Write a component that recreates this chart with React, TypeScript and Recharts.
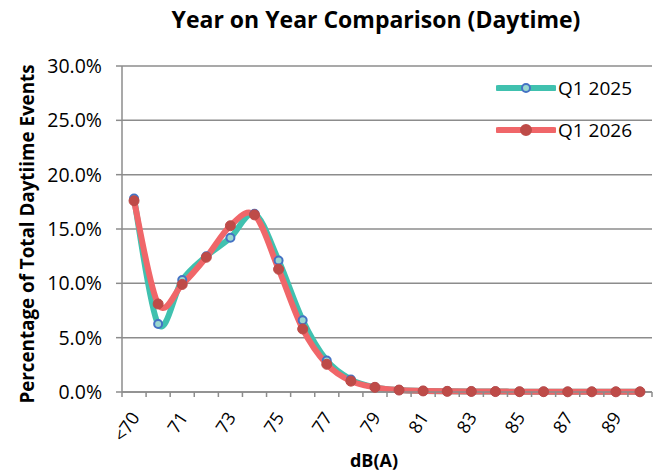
import React from 'react';
import { LineChart, Line, XAxis, YAxis, CartesianGrid, Legend } from 'recharts';

const categories = ['<70','70','71','72','73','74','75','76','77','78','79','80','81','82','83','84','85','86','87','88','89','90'];
const q1_2025 = [17.8, 6.25, 10.3, 12.5, 14.2, 16.4, 12.1, 6.6, 2.9, 1.15, 0.43, 0.18, 0.1, 0.06, 0.05, 0.04, 0.03, 0.03, 0.02, 0.02, 0.02, 0.02];
const q1_2026 = [17.6, 8.1, 9.9, 12.4, 15.3, 16.3, 11.3, 5.8, 2.55, 1.0, 0.43, 0.18, 0.1, 0.06, 0.05, 0.04, 0.03, 0.03, 0.02, 0.02, 0.02, 0.02];
const yTicks = [0, 5, 10, 15, 20, 25, 30];
const labelIdx = [0, 2, 4, 6, 8, 10, 12, 14, 16, 18, 20];

const data = categories.map((c, i) => ({ i, cat: c, a: q1_2025[i], b: q1_2026[i] }));
const boundaryTicks = [...categories.map((_, k) => k - 0.5), categories.length - 0.5];
const domainX = [-0.5, categories.length - 0.5];

const FONT = '"Open Sans", sans-serif';
const TEAL = '#40C1AF';
const RED = '#F06669';
const BLUE = '#4472C4';
const DARKRED = '#BE4B48';

// Excel-like smoothing: cubic Bezier with Catmull-Rom control points
const excelSmooth = (context: any) => {
  let xs: number[] = [];
  let ys: number[] = [];
  return {
    areaStart() {},
    areaEnd() {},
    lineStart() { xs = []; ys = []; },
    lineEnd() {
      const n = xs.length;
      if (!n) return;
      context.moveTo(xs[0], ys[0]);
      for (let i = 0; i < n - 1; i++) {
        const p = Math.max(i - 1, 0);
        const q = Math.min(i + 2, n - 1);
        context.bezierCurveTo(
          xs[i] + (xs[i + 1] - xs[p]) / 6, ys[i] + (ys[i + 1] - ys[p]) / 6,
          xs[i + 1] - (xs[q] - xs[i]) / 6, ys[i + 1] - (ys[q] - ys[i]) / 6,
          xs[i + 1], ys[i + 1]
        );
      }
    },
    point(x: number, y: number) { xs.push(+x); ys.push(+y); },
  };
};

const EmptyTick = () => <g />;

const RotTick = (props: any) => {
  const { x, y, payload } = props;
  return (
    <g transform={`translate(${x + 1},${y + 14})`}>
      <text transform="rotate(-57)" textAnchor="end" dy="0.35em" fontSize={18} fontFamily={FONT} fill="#000">
        {categories[payload.value]}
      </text>
    </g>
  );
};

const YLabel = () => (
  <text x={27} y={234} transform="rotate(-90, 27, 234)" textAnchor="middle" dominantBaseline="central"
    fontSize={18.8} fontWeight="bold" fontFamily={FONT} fill="#000">
    Percentage of Total Daytiime Events
  </text>
);

const LegendContent = (props: any) => {
  const { payload } = props;
  return (
    <div>
      {(payload || []).map((entry: any, k: number) => {
        const filled = k === 1;
        return (
          <div key={k} style={{ display: 'flex', alignItems: 'center', height: 42 }}>
            <svg width={60} height={12}>
              <line x1={2} y1={6} x2={58} y2={6} stroke={entry.color} strokeWidth={6} strokeLinecap="round" />
              <circle cx={30} cy={6} r={filled ? 5 : 4} fill={filled ? DARKRED : '#9AD8CF'} stroke={filled ? DARKRED : BLUE} strokeWidth={2} />
            </svg>
            <span style={{ fontFamily: FONT, fontSize: 19, color: '#000', marginLeft: 2 }}>{entry.value}</span>
          </div>
        );
      })}
    </div>
  );
};

export default function App() {
  return (
    <div style={{ position: 'absolute', left: 0, top: 0, width: 659, height: 472, background: '#fff' }}>
      <div style={{ position: 'absolute', left: 126, width: 500, top: 3, textAlign: 'center', fontFamily: FONT, fontWeight: 'bold', fontSize: 23, color: '#000' }}>
        Year on Year Comparison (Daytime)
      </div>
      <LineChart width={659} height={472} data={data} margin={{ top: 66, right: 7, left: 0, bottom: 0 }}>
        <CartesianGrid vertical={false} stroke="#8c8c8c" strokeWidth={1.5} />
        <XAxis xAxisId={0} type="number" dataKey="i" domain={domainX} ticks={boundaryTicks} interval={0}
          tick={EmptyTick} tickSize={5} height={8} stroke="#8c8c8c" strokeWidth={1.5} allowDataOverflow />
        <XAxis xAxisId="lab" type="number" dataKey="i" domain={domainX} ticks={labelIdx} interval={0}
          tick={RotTick} tickSize={0} tickMargin={0} height={72} axisLine={false} tickLine={false} allowDataOverflow />
        <YAxis domain={[0, 30]} ticks={yTicks} interval={0} width={122} tickSize={6} tickMargin={14}
          tickFormatter={(v: number) => v.toFixed(1) + '%'} stroke="#8c8c8c" strokeWidth={1.5}
          tick={{ fill: '#000', fontSize: 19.5, fontFamily: FONT }} label={<YLabel />} />
        <Legend layout="vertical" align="center" verticalAlign="middle" content={<LegendContent />}
          wrapperStyle={{ left: 496, top: 67, width: 160 }} />
        <Line xAxisId={0} type={excelSmooth as any} dataKey="a" name="Q1 2025" stroke={TEAL} strokeWidth={6}
          dot={{ r: 4, fill: '#9AD8CF', stroke: BLUE, strokeWidth: 2 }} activeDot={false} isAnimationActive={false} />
        <Line xAxisId={0} type={excelSmooth as any} dataKey="b" name="Q1 2026" stroke={RED} strokeWidth={6}
          dot={{ r: 5, fill: DARKRED, stroke: DARKRED, strokeWidth: 1 }} activeDot={false} isAnimationActive={false} />
      </LineChart>
      <div style={{ position: 'absolute', left: 324, width: 100, top: 448, textAlign: 'center', fontFamily: FONT, fontWeight: 'bold', fontSize: 18, color: '#000' }}>
        dB(A)
      </div>
    </div>
  );
}
